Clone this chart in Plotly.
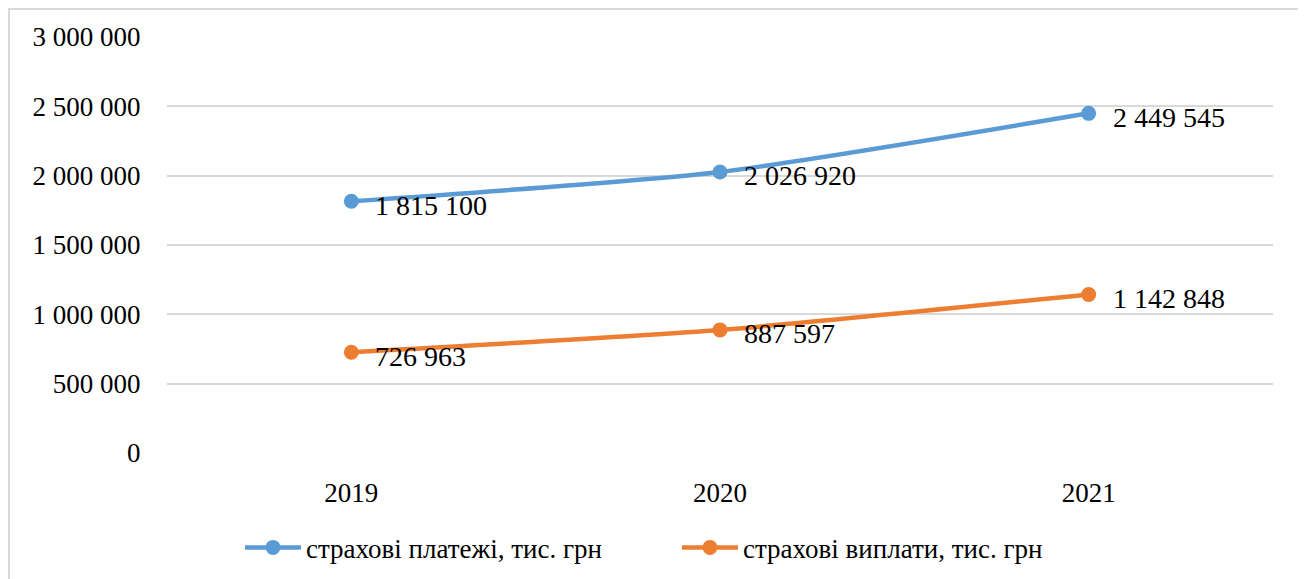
import plotly.graph_objects as go

years = ["2019", "2020", "2021"]
payments = [1815100, 2026920, 2449545]
claims = [726963, 887597, 1142848]
names = ["страхові платежі, тис. грн", "страхові виплати, тис. грн"]
colors = ["#5B9BD5", "#ED7D31"]
y_ticks = [0, 500000, 1000000, 1500000, 2000000, 2500000, 3000000]

FONT = "Liberation Serif, Times New Roman, serif"

def fmt(v):
    return f"{v:,}".replace(",", " ")

fig = go.Figure()
for series, name, col in zip([payments, claims], names, colors):
    fig.add_trace(go.Scatter(
        x=years, y=series, name=name, mode="lines+markers",
        line=dict(color=col, width=4.5, shape="spline", smoothing=0.6),
        marker=dict(color=col, size=15),
    ))
    for i, v in enumerate(series):
        fig.add_annotation(
            x=i, y=v, xref="x", yref="y", text=fmt(v), showarrow=False,
            xanchor="left", yanchor="middle", xshift=22, yshift=-4,
            font=dict(family=FONT, size=28, color="#000000"),
        )

fig.update_layout(
    width=1306, height=579,
    margin=dict(l=159, r=41, t=29, b=134),
    font=dict(family=FONT, size=27, color="#000000"),
    separators=". ",
    plot_bgcolor="white",
    legend=dict(orientation="h", x=0.066, xanchor="left", y=-0.228, yanchor="middle",
                font=dict(family=FONT, size=27, color="#000000"), itemwidth=56,
                entrywidth=366, entrywidthmode="pixels"),
    shapes=[dict(type="rect", xref="paper", yref="paper",
                 x0=-0.1429, x1=1.0262, y0=-0.32, y1=1.0673,
                 line=dict(color="#D9D9D9", width=2), layer="below")],
)
fig.update_xaxes(type="category", range=[-0.5, 2.5], showgrid=False, zeroline=False,
                 ticks="outside", ticklen=16, tickcolor="rgba(0,0,0,0)")
fig.update_yaxes(range=[0, 3000000], tickvals=y_ticks, tickformat=",d",
                 gridcolor="#D9D9D9", gridwidth=2, zeroline=False,
                 ticks="outside", ticklen=20, tickcolor="rgba(0,0,0,0)")

fig.write_html("out.html")
